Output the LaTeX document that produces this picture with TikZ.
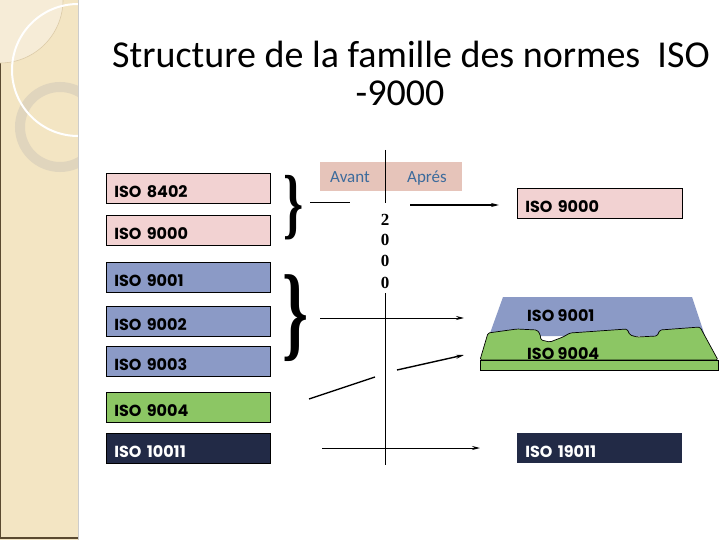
\documentclass[tikz,border=0pt]{standalone}
\usepackage{fontspec}
\setmainfont{Carlito}
\newfontfamily\boxfont{Poppins}
\newfontfamily\digitfont{Liberation Serif}
\usetikzlibrary{arrows.meta}
\definecolor{strip}{HTML}{F3E5C3}
\definecolor{disk}{HTML}{F6ECD7}
\definecolor{diskedge}{HTML}{DCCBA8}
\definecolor{ringc}{HTML}{E0D5BD}
\definecolor{pinkbox}{HTML}{F2D2D2}
\definecolor{bluebox}{HTML}{8B9AC6}
\definecolor{greenbox}{HTML}{8CC664}
\definecolor{navy}{HTML}{222A46}
\definecolor{hdr}{HTML}{E6C4BA}
\definecolor{hdrtext}{HTML}{3C6B9C}
\definecolor{brownline}{HTML}{5A4A30}
\tikzset{
  isobox/.style={draw=black, line width=0.8pt, anchor=north west, minimum height=30pt,
    text width=148pt, inner xsep=8pt, inner ysep=0pt, align=left,
    text height=19pt, text depth=0pt,
    font=\boxfont\bfseries\fontsize{16}{16}\selectfont},
  slabtext/.style={anchor=base west, inner sep=0pt, font=\boxfont\bfseries\fontsize{16}{16}\selectfont},
  digit/.style={inner sep=0pt, font=\digitfont\bfseries\fontsize{17}{17}\selectfont},
  bracenode/.style={inner sep=0pt},
  thinarrow/.style={line width=1pt, -{Stealth[length=8pt,width=4pt]}},
  plainline/.style={line width=1pt},
  hdrlabel/.style={text=hdrtext, font=\fontsize{17}{17}\selectfont, inner sep=0, anchor=base}
}
\begin{document}
\begin{tikzpicture}[x=1pt,y=-1pt]
\useasboundingbox (0,0) rectangle (720,540);
\fill[white] (0,0) rectangle (720,540);
% sidebar
\begin{scope}
\clip (0,0) rectangle (78,540);
\fill[strip] (0,0) rectangle (78,540);
\draw[brownline, line width=2.5pt] (0,0) -- (0,538) -- (78,538);
\fill[disk] (0,0) circle (63);
\draw[diskedge, line width=0.6pt] (0,0) circle (63);
\draw[ringc, line width=10pt] (60,127) circle (40);
\draw[white, line width=2pt] (78,70) circle (66);
\end{scope}
\draw[black!20, line width=1.5pt] (78.5,0) -- (78.5,540);
% title
\node[anchor=base, inner sep=0, font=\fontsize{38}{44}\selectfont] (title1) at (411,68) {Structure de la famille des normes\ \ ISO};
\node[anchor=base, inner sep=0, font=\fontsize{38}{44}\selectfont] (title2) at (400,106) {-9000};
% left boxes
\node[isobox, fill=pinkbox] (b8402) at (106,173) {ISO 8402};
\node[isobox, fill=pinkbox] (b9000) at (106,215) {ISO 9000};
\node[isobox, fill=bluebox] (b9001) at (106,262) {ISO 9001};
\node[isobox, fill=bluebox] (b9002) at (106,306) {ISO 9002};
\node[isobox, fill=bluebox] (b9003) at (106,346) {ISO 9003};
\node[isobox, fill=greenbox] (b9004) at (106,392) {ISO 9004};
\node[isobox, fill=navy, text=white] (b10011) at (106,433) {ISO 10011};
% braces
\node[bracenode] (br1) at (294,208) {\scalebox{1.7}[2.6]{\digitfont\bfseries\fontsize{30}{30}\selectfont\}}};
\node[bracenode] (br2) at (295,318) {\scalebox{2.2}[3.5]{\digitfont\bfseries\fontsize{30}{30}\selectfont\}}};
% header
\node[fill=hdr, minimum width=142pt, minimum height=29pt, anchor=north west, inner sep=0] (head) at (320,162) {};
\node[hdrlabel] (avant) at (350,183) {Avant};
\node[hdrlabel] (apres) at (427,183) {Aprés};
% axis
\coordinate (axtop) at (385,150);
\coordinate (axmid1) at (385,203);
\coordinate (axmid2) at (385,293);
\coordinate (axbot) at (385,465);
\draw[plainline] (axtop) -- (axmid1);
\draw[plainline] (axmid2) -- (axbot);
\node[digit] (d1) at (385,220) {2};
\node[digit] (d2) at (385,240) {0};
\node[digit] (d3) at (385,261) {0};
\node[digit] (d4) at (385,283) {0};
% right side
\node[isobox, fill=pinkbox, text width=149pt] (r9000) at (517,188) {ISO 9000};
\node[isobox, fill=navy, text=white, draw=none, text width=149pt] (r19011) at (517,433) {ISO 19011};
% slab
\fill[bluebox] (489,336) -- (503,297) -- (692,297) -- (705,336) -- cycle;
\draw[fill=greenbox, line width=0.7pt, rounded corners=1.5pt] (480,360) -- (488,333) -- (517,329) -- (537,330) -- (540,334) -- (541,340) -- (550,342) -- (563,337) -- (570,333) -- (627,329) -- (630,335) -- (637,337) -- (657,336) -- (660,330) -- (700,327) -- (718,360) -- cycle;
\draw[fill=greenbox, line width=0.7pt] (480,360) rectangle (718,370);
\node[slabtext] (s9001) at (527,321) {ISO 9001};
\node[slabtext] (s9004) at (527,359) {ISO 9004};
% connectors
\coordinate (l1a) at (310,203);
\coordinate (l1b) at (350,203);
\coordinate (a1a) at (410,205);
\coordinate (a1b) at (499,205);
\coordinate (a2a) at (320,318);
\coordinate (a2b) at (464,318);
\coordinate (l3a) at (309,399);
\coordinate (l3b) at (375,377);
\coordinate (a3a) at (397,370);
\coordinate (a3b) at (464,355);
\coordinate (a4a) at (322,448);
\coordinate (a4b) at (480,448);
\draw[plainline] (l1a) -- (l1b);
\draw[thinarrow, line width=1.8pt] (a1a) -- (a1b);
\draw[thinarrow] (a2a) -- (a2b);
\draw[plainline, line width=1.4pt] (l3a) -- (l3b);
\draw[thinarrow, line width=1.4pt] (a3a) -- (a3b);
\draw[thinarrow] (a4a) -- (a4b);
\end{tikzpicture}
\end{document}
